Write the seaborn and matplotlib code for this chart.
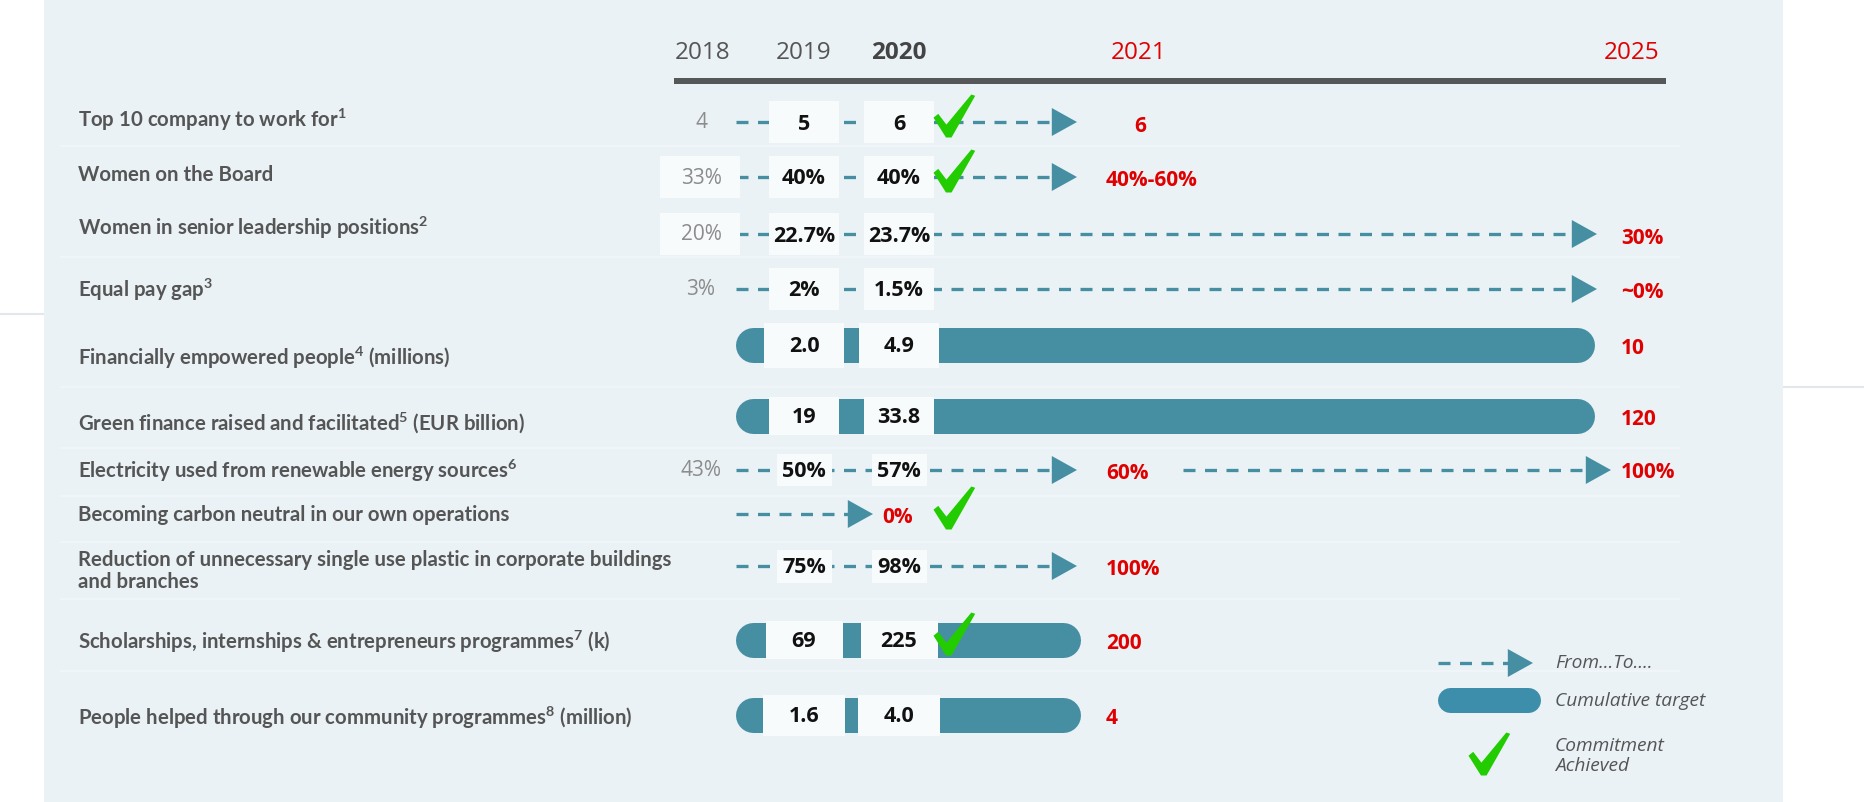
import numpy as np
import pandas as pd
import matplotlib
matplotlib.use("Agg")
import matplotlib.pyplot as plt
from matplotlib.path import Path
from matplotlib.patches import Rectangle
import seaborn as sns

# ---------------- data ----------------
labels = [
    "Top 10 company to work for$^{1}$",
    "Women on the Board",
    "Women in senior leadership positions$^{2}$",
    "Equal pay gap$^{3}$",
    "Financially empowered people$^{4}$ (millions)",
    "Green finance raised and facilitated$^{5}$ (EUR billion)",
    "Electricity used from renewable energy sources$^{6}$",
    "Becoming carbon neutral in our own operations",
    "Reduction of unnecessary single use plastic in corporate buildings\nand branches",
    "Scholarships, internships & entrepreneurs programmes$^{7}$ (k)",
    "People helped through our community programmes$^{8}$ (million)",
]
years = ["2018", "2019", "2020", "2021", "2025"]
values_2018 = ["4", "33%", "20%", "3%", "", "", "43%", "", "", "", ""]
values_2019 = ["5", "40%", "22.7%", "2%", "2.0", "19", "50%", "", "75%", "69", "1.6"]
values_2020 = ["6", "40%", "23.7%", "1.5%", "4.9", "33.8", "57%", "", "98%", "225", "4.0"]
target_values = ["6", "40%-60%", "30%", "~0%", "10", "120", "60%", "0%", "100%", "200", "4"]
target_years = ["2021", "2021", "2025", "2025", "2025", "2025", "2021", "2020", "2021", "2021", "2021"]
second_target_values = ["", "", "", "", "", "", "100%", "", "", "", ""]   # 2025 targets after a 2021 step
row_kinds = ["arrow", "arrow", "arrow", "arrow", "bar", "bar", "arrow", "arrow", "arrow", "bar", "bar"]
achieved = [True, True, False, False, False, False, False, True, False, True, False]
legend_texts = ["From...To....", "Cumulative target", "Commitment\nAchieved"]

# ---------------- layout (pixel space) ----------------
W, H = 1865, 803
col_x = {"2018": 703, "2019": 804, "2020": 899, "2021": 1139, "2025": 1632}
row_y = [123, 178, 235, 290, 346, 417, 471, 515, 567, 641, 716]
label_y = [120, 175, 228, 290, 358, 423, 471, 515, 571, 642, 718]
box_w = [70, 70, 70, 70, 80, 70, 55, 0, 55, 77, 82]
box_h = [42, 42, 42, 42, 45, 38, 32, 0, 33, 38, 41]
box_2018 = [False, True, True, False, False, False, False, False, False, False, False]
target_nudge = [28, 0, 0, 0, 0, 0, 0, 0, 0, 0, 0]
line_start = 736
bar_start = 735
arrow_tip = {"2020": 873, "2021": 1077, "2025": 1597}
bar_end = {"2021": 1080, "2025": 1594}
target_text_x = {"2020": 882, "2021": 1106, "2025": 1621}
second_line_start, second_tip = 1183, 1611
LABEL_X = 78
ARROW_PX = 28
CHECK_PX = 43
BAR_PX = 35

PANEL = "#EAF2F6"
BOX = "#F7FBFC"
TEAL = "#468FA3"
RED = "#E00000"
GRAY_TXT = "#555555"
LIGHT_TXT = "#8C8C8C"
GREEN = "#22CC00"
HEADER_LINE = "#555759"
PT = 0.72  # points per pixel at dpi 100

sns.set_style("white")
plt.rcParams["font.family"] = ["Open Sans", "DejaVu Sans"]
plt.rcParams["lines.scale_dashes"] = False
plt.rcParams["mathtext.fontset"] = "custom"
plt.rcParams["mathtext.rm"] = "Lato:bold"
plt.rcParams["mathtext.it"] = "Lato:bold"
plt.rcParams["mathtext.bf"] = "Lato:bold"
plt.rcParams["mathtext.default"] = "rm"
FAM = ["Open Sans", "DejaVu Sans"]
LAB_FAM = ["Lato", "Open Sans", "DejaVu Sans"]

fig = plt.figure(figsize=(W / 100, H / 100), dpi=100, facecolor="white")
ax = fig.add_axes([0, 0, 1, 1])
ax.set_xlim(0, W)
ax.set_ylim(H, 0)
ax.axis("off")

# panel + faint separators
ax.add_patch(Rectangle((44, 0), 1783 - 44, H, color=PANEL, zorder=0, lw=0))
ax.hlines([147, 258, 388, 449, 497, 543, 600, 672], 60, 1680, color="#F1F6F9", lw=1.2, zorder=1)
ax.hlines([315], 0, 44, color="#E2E7EB", lw=1.5, zorder=1)
ax.hlines([388], 1783, W, color="#E2E7EB", lw=1.5, zorder=1)

# header
for yr in years:
    color = RED if yr in ("2021", "2025") else ("#444444" if yr == "2020" else GRAY_TXT)
    weight = "bold" if yr == "2020" else "normal"
    ax.text(col_x[yr], 53, yr, ha="center", va="center", fontsize=17.5, color=color,
            fontweight=weight, family=FAM, zorder=5)
ax.plot([674, 1666], [82, 82], color=HEADER_LINE, lw=6 * PT, solid_capstyle="butt", zorder=2)

# markers
arrow_marker = Path([(-0.45, -0.5), (0.45, 0.0), (-0.45, 0.5), (-0.45, -0.5)],
                    [Path.MOVETO, Path.LINETO, Path.LINETO, Path.CLOSEPOLY])
check_verts = np.array([(0.00, 0.46), (0.11, 0.55), (0.30, 0.30), (0.88, 1.00), (0.97, 0.97),
                        (0.42, 0.00), (0.29, 0.00), (0.00, 0.46)]) - 0.5
check_marker = Path(check_verts, [Path.MOVETO] + [Path.LINETO] * 6 + [Path.CLOSEPOLY])

DASH = (0, (12 * PT, 9.5 * PT))
arrow_pts = []
check_pts = []

for i in range(len(labels)):
    y = row_y[i]
    ax.text(LABEL_X, label_y[i], labels[i], ha="left", va="center", fontsize=14.7,
            fontweight="bold", color=GRAY_TXT, family=LAB_FAM, zorder=5, linespacing=1.1)
    ty = target_years[i]
    if row_kinds[i] == "arrow":
        tip = arrow_tip[ty]
        ax.plot([line_start, tip - ARROW_PX * 0.8], [y, y], color=TEAL, lw=3.3 * PT,
                linestyle=DASH, dash_capstyle="butt", zorder=2)
        arrow_pts.append((tip - ARROW_PX * 0.45, y))
        if second_target_values[i]:
            ax.plot([second_line_start, second_tip - ARROW_PX * 0.8], [y, y], color=TEAL,
                    lw=3.3 * PT, linestyle=DASH, dash_capstyle="butt", zorder=2)
            arrow_pts.append((second_tip - ARROW_PX * 0.45, y))
            ax.text(target_text_x["2025"], y + 2, second_target_values[i], ha="left", va="center",
                    fontsize=15, fontweight="bold", color=RED, family=FAM, zorder=5)
    else:
        r = BAR_PX / 2
        ax.plot([bar_start + r, bar_end[ty] - r], [y, y], color=TEAL, lw=BAR_PX * PT,
                solid_capstyle="round", zorder=2)
    ax.text(target_text_x[ty] + target_nudge[i], y + 3, target_values[i], ha="left", va="center",
            fontsize=15, fontweight="bold", color=RED, family=FAM, zorder=5)

    # value boxes and values
    if box_2018[i]:
        ax.add_patch(Rectangle((col_x["2018"] - 3 - 40, y - box_h[i] / 2), 80, box_h[i],
                               color=BOX, lw=0, zorder=4))
    if values_2018[i]:
        ax.text(col_x["2018"] - 2, y, values_2018[i], ha="center", va="center", fontsize=15,
                color=LIGHT_TXT, family=FAM, zorder=5)
    for yr, vals in (("2019", values_2019), ("2020", values_2020)):
        if vals[i]:
            cx = col_x[yr]
            ax.add_patch(Rectangle((cx - box_w[i] / 2, y - box_h[i] / 2), box_w[i], box_h[i],
                                   color=BOX, lw=0, zorder=4))
            ax.text(cx, y + 1, vals[i], ha="center", va="center", fontsize=15.5,
                    fontweight="bold", color="#111111", family=FAM, zorder=5)
    if achieved[i]:
        check_pts.append((955, y - 6))

# legend
ly1, ly2, ly3 = 664, 701, 755
ax.plot([1438, 1533 - ARROW_PX * 0.8], [ly1, ly1], color=TEAL, lw=3.3 * PT, linestyle=DASH,
        dash_capstyle="butt", zorder=2)
arrow_pts.append((1533 - ARROW_PX * 0.45, ly1))
ax.plot([1437 + 12.5, 1540 - 12.5], [ly2, ly2], color="#3C8EAA", lw=25 * PT,
        solid_capstyle="round", zorder=2)
check_pts.append((1490, ly3))
for txt, yy in zip(legend_texts, [ly1 - 1, ly2, ly3 + 1]):
    ax.text(1555, yy, txt, ha="left", va="center", fontsize=13.8, style="italic",
            color=GRAY_TXT, family=FAM, zorder=5, linespacing=1.15)

arrows_df = pd.DataFrame(arrow_pts, columns=["x", "y"])
checks_df = pd.DataFrame(check_pts, columns=["x", "y"])
sns.scatterplot(data=arrows_df, x="x", y="y", marker=arrow_marker, s=(ARROW_PX * PT) ** 2,
                color=TEAL, edgecolor="none", linewidth=0, ax=ax, zorder=3, legend=False)
sns.scatterplot(data=checks_df, x="x", y="y", marker=check_marker, s=(CHECK_PX * PT) ** 2,
                color=GREEN, edgecolor="none", linewidth=0, ax=ax, zorder=6, legend=False)
ax.set_xlim(0, W)
ax.set_ylim(H, 0)
ax.axis("off")

fig.savefig("out.png", dpi=100, facecolor="white")
